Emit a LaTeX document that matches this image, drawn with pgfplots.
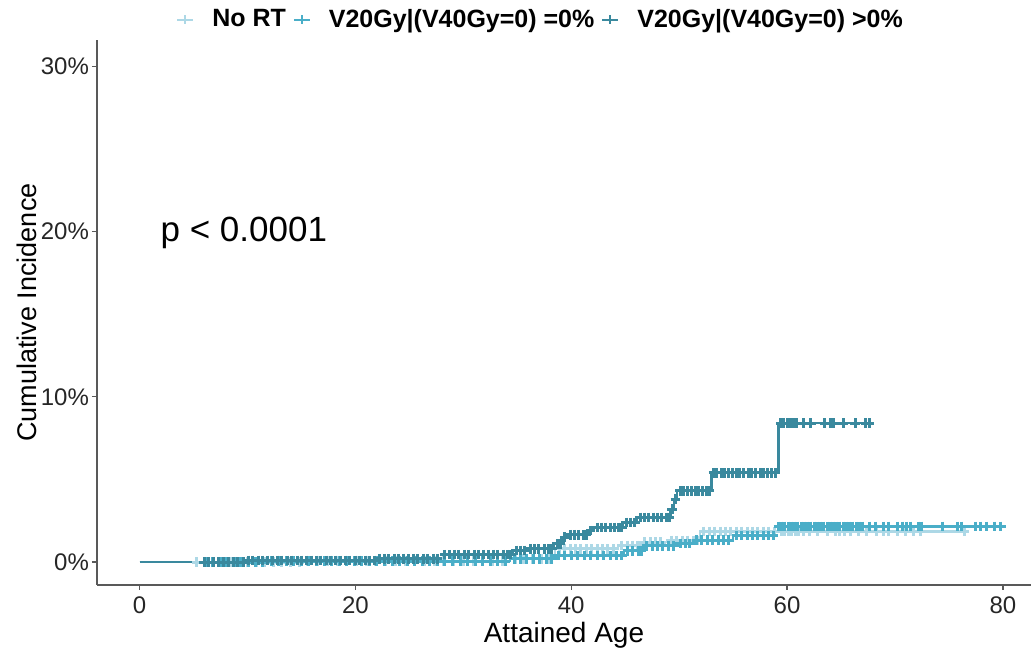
\documentclass[border=0pt]{standalone}
\usepackage{fontspec}
\setmainfont{Liberation Sans}
\usepackage{pgfplots}
\usepackage{pgfplotstable}
\pgfplotsset{compat=1.18}

\definecolor{norT}{RGB}{173,216,230}
\definecolor{vzero}{RGB}{74,174,200}
\definecolor{vpos}{RGB}{58,137,158}

% step curves (event times and cumulative incidence in %)
\pgfplotstableread{
x y
0 0
15 0.05
34.3 0.2
38.5 0.79
44.3 1.0
46.4 1.2
48.9 1.3
51.9 1.85
76.5 1.85
}\norTsteps
\pgfplotstableread{
x y
0 0
12 0.05
34.3 0.2
38.4 0.4
44.9 0.68
46.7 0.97
49.8 1.12
51.3 1.33
55.0 1.6
58.9 2.15
79.9 2.15
}\vzerosteps
\pgfplotstableread{
x y
0 0
10 0.1
22 0.2
28.1 0.45
34.6 0.7
35.9 0.8
38.4 1.1
39.2 1.5
39.6 1.65
41.6 1.9
42.1 2.1
44.8 2.4
46.1 2.7
49.2 3.2
49.5 3.8
49.8 4.3
53.0 5.4
59.2 8.4
67.6 8.4
}\vpossteps

% censoring times
\pgfplotstableread{
x y
5.3 0
6.0 0
6.8 0
7.6 0
8.4 0
9.2 0
10.0 0
10.8 0
11.6 0
12.4 0
13.2 0
14.0 0
14.8 0
15.6 0.05
16.5 0.05
17.4 0.05
18.3 0.05
19.2 0.05
20.1 0.05
21.0 0.05
21.9 0.05
22.8 0.05
23.7 0.05
24.6 0.05
25.5 0.05
26.4 0.05
27.3 0.05
28.2 0.05
29.1 0.05
30.0 0.05
30.9 0.05
31.8 0.05
32.7 0.05
33.6 0.05
34.8 0.2
35.6 0.2
36.4 0.2
37.2 0.2
38.0 0.2
38.9 0.79
39.4 0.79
39.9 0.79
40.4 0.79
40.9 0.79
41.4 0.79
41.9 0.79
42.4 0.79
42.9 0.79
43.4 0.79
43.9 0.79
44.7 1.0
45.2 1.0
45.7 1.0
46.1 1.0
46.8 1.2
47.3 1.2
47.8 1.2
48.3 1.2
49.3 1.3
49.8 1.3
50.3 1.3
50.8 1.3
51.3 1.3
51.7 1.3
52.3 1.85
52.8 1.85
53.3 1.85
53.8 1.85
54.3 1.85
54.8 1.85
55.3 1.85
55.8 1.85
56.3 1.85
56.8 1.85
57.3 1.85
57.8 1.85
58.3 1.85
58.8 1.85
59.5 1.85
59.8 1.85
60.1 1.85
60.4 1.85
60.8 1.85
61.1 1.85
61.5 1.85
62.1 1.85
62.8 1.85
63.7 1.85
64.5 1.85
64.9 1.85
65.3 1.85
65.9 1.85
66.6 1.85
67.4 1.85
68.3 1.85
68.9 1.85
69.4 1.85
70.2 1.85
71.0 1.85
71.7 1.85
72.4 1.85
76.4 1.85
}\norTcens
\pgfplotstableread{
x y
6.2 0
6.8 0
7.5 0
8.1 0
8.8 0
9.4 0
10.1 0
10.7 0
11.4 0
12.2 0.05
12.9 0.05
13.6 0.05
14.3 0.05
15.0 0.05
15.7 0.05
16.4 0.05
17.1 0.05
17.8 0.05
18.5 0.05
19.2 0.05
19.9 0.05
20.6 0.05
21.3 0.05
22.0 0.05
22.7 0.05
23.4 0.05
24.1 0.05
24.8 0.05
25.5 0.05
26.2 0.05
26.9 0.05
27.6 0.05
28.3 0.05
29.0 0.05
29.7 0.05
30.4 0.05
31.1 0.05
31.8 0.05
32.5 0.05
33.2 0.05
33.9 0.05
34.7 0.2
35.3 0.2
35.9 0.2
36.5 0.2
37.1 0.2
37.7 0.2
38.2 0.2
38.8 0.4
39.4 0.4
40.0 0.4
40.6 0.4
41.2 0.4
41.8 0.4
42.4 0.4
43.0 0.4
43.6 0.4
44.2 0.4
44.7 0.4
45.2 0.68
45.7 0.68
46.2 0.68
46.5 0.68
47.0 0.97
47.5 0.97
48.0 0.97
48.5 0.97
49.0 0.97
49.5 0.97
50.1 1.12
50.6 1.12
51.0 1.12
51.6 1.33
52.1 1.33
52.6 1.33
53.1 1.33
53.6 1.33
54.1 1.33
54.6 1.33
55.3 1.6
55.8 1.6
56.3 1.6
56.8 1.6
57.3 1.6
57.8 1.6
58.3 1.6
58.7 1.6
59.2 2.15
59.5 2.15
59.8 2.15
60.1 2.15
60.4 2.15
60.7 2.15
61.0 2.15
61.3 2.15
61.6 2.15
61.9 2.15
62.2 2.15
62.5 2.15
62.8 2.15
63.1 2.15
63.4 2.15
63.7 2.15
64.0 2.15
64.3 2.15
64.6 2.15
64.9 2.15
65.2 2.15
65.5 2.15
65.8 2.15
66.1 2.15
66.4 2.15
66.7 2.15
67.0 2.15
67.6 2.15
68.2 2.15
68.9 2.15
69.4 2.15
70.2 2.15
70.7 2.15
71.1 2.15
71.4 2.15
72.2 2.15
72.5 2.15
74.4 2.15
75.8 2.15
76.2 2.15
77.5 2.15
77.9 2.15
78.5 2.15
79.2 2.15
79.8 2.15
}\vzerocens
\pgfplotstableread{
x y
6.0 0
6.4 0
6.9 0
7.3 0
7.8 0
8.2 0
8.7 0
9.1 0
9.6 0
10.1 0.1
10.5 0.1
11.0 0.1
11.4 0.1
11.9 0.1
12.3 0.1
12.8 0.1
13.2 0.1
13.7 0.1
14.1 0.1
14.6 0.1
15.0 0.1
15.5 0.1
15.9 0.1
16.4 0.1
16.8 0.1
17.3 0.1
17.7 0.1
18.2 0.1
18.6 0.1
19.1 0.1
19.5 0.1
20.0 0.1
20.4 0.1
20.9 0.1
21.3 0.1
21.8 0.1
22.2 0.2
22.7 0.2
23.1 0.2
23.6 0.2
24.0 0.2
24.5 0.2
24.9 0.2
25.4 0.2
25.8 0.2
26.3 0.2
26.7 0.2
27.2 0.2
27.6 0.2
28.3 0.45
28.7 0.45
29.2 0.45
29.6 0.45
30.1 0.45
30.5 0.45
31.0 0.45
31.4 0.45
31.9 0.45
32.3 0.45
32.8 0.45
33.2 0.45
33.7 0.45
34.1 0.45
34.4 0.45
34.9 0.7
35.3 0.7
35.7 0.7
36.2 0.8
36.6 0.8
37.0 0.8
37.5 0.8
37.9 0.8
38.2 0.8
38.7 1.1
39.0 1.1
39.4 1.5
39.9 1.65
40.3 1.65
40.7 1.65
41.1 1.65
41.4 1.65
41.8 1.9
42.4 2.1
42.8 2.1
43.2 2.1
43.6 2.1
44.0 2.1
44.4 2.1
44.7 2.1
45.1 2.4
45.5 2.4
45.9 2.4
46.4 2.7
46.8 2.7
47.2 2.7
47.6 2.7
48.0 2.7
48.4 2.7
48.8 2.7
49.1 2.7
49.35 3.2
49.65 3.8
50.1 4.3
50.4 4.3
50.8 4.3
51.1 4.3
51.5 4.3
51.8 4.3
52.2 4.3
52.5 4.3
52.8 4.3
53.2 5.4
53.5 5.4
53.9 5.4
54.2 5.4
54.6 5.4
54.9 5.4
55.3 5.4
55.6 5.4
56.0 5.4
56.4 5.4
56.7 5.4
57.1 5.4
57.5 5.4
57.8 5.4
58.2 5.4
58.6 5.4
58.9 5.4
59.4 8.4
59.7 8.4
60.0 8.4
60.3 8.4
60.6 8.4
60.9 8.4
61.5 8.4
62.2 8.4
63.5 8.4
64.0 8.4
64.3 8.4
65.2 8.4
66.3 8.4
67.3 8.4
67.6 8.4
}\vposcens

\begin{document}
\begin{tikzpicture}
\begin{axis}[
  at={(0,0)}, anchor=south west,
  scale only axis, width=467pt, height=272.5pt,
  xmin=-3.94, xmax=82.6, ymin=-1.39, ymax=31.6,
  axis lines=left,
  axis line style={black!65, line width=0.6pt, -},
  xtick={0,20,40,60,80},
  ytick={0,10,20,30},
  yticklabels={0\%,10\%,20\%,30\%},
  tick style={black!65, line width=0.6pt},
  tick align=outside, major tick length=2.5pt,
  /pgf/number format/assume math mode=true,
  ticklabel style={font=\fontsize{12}{14}\selectfont, text=black!85},
  yticklabel style={xshift=2pt},
  xlabel={Attained Age},
  ylabel={Cumulative Incidence},
  xlabel style={font=\fontsize{14}{16}\selectfont, at={(axis description cs:0.5,0)}, anchor=center, yshift=-25pt},
  ylabel style={font=\fontsize{13.5}{16}\selectfont, at={(axis description cs:0,0.5)}, anchor=center, yshift=35pt},
  legend columns=-1,
  legend style={at={(0.476,1.037)}, anchor=center, draw=none, fill=none,
    font=\bfseries\fontsize{12.5}{14}\selectfont,
    /tikz/every odd column/.append style={column sep=7pt},
    /tikz/every even column/.append style={column sep=1.5pt}},
  legend image code/.code={\draw[#1, mark indices={2}] plot coordinates {(0pt,0pt) (4pt,0pt) (8pt,0pt)};},
  clip=false,
]
\addlegendimage{norT, line width=1pt, mark=+, mark size=2.2pt}
\addlegendentry{No RT}
\addlegendimage{vzero, line width=1pt, mark=+, mark size=2.2pt}
\addlegendentry{V20Gy|(V40Gy=0) =0\%}
\addlegendimage{vpos, line width=1pt, mark=+, mark size=2.2pt}
\addlegendentry{V20Gy|(V40Gy=0) >0\%}

\addplot[forget plot, norT, line width=1.1pt, const plot, mark=none] table {\norTsteps};
\addplot[forget plot, norT, only marks, mark=+, mark size=2.4pt, line width=1.5pt] table {\norTcens};
\addplot[forget plot, vzero, line width=1.1pt, const plot, mark=none] table {\vzerosteps};
\addplot[forget plot, vzero, only marks, mark=+, mark size=2.4pt, line width=1.5pt] table {\vzerocens};
\addplot[forget plot, vpos, line width=1.1pt, const plot, mark=none] table {\vpossteps};
\addplot[forget plot, vpos, only marks, mark=+, mark size=2.4pt, line width=1.5pt] table {\vposcens};

\node[anchor=west, font=\fontsize{17.5}{20}\selectfont] at (axis cs:1.3,19.9) {p < 0.0001};
\end{axis}
\path[use as bounding box] (-48.5pt,-34.5pt) rectangle (469pt,292.5pt);
\end{tikzpicture}
\end{document}
